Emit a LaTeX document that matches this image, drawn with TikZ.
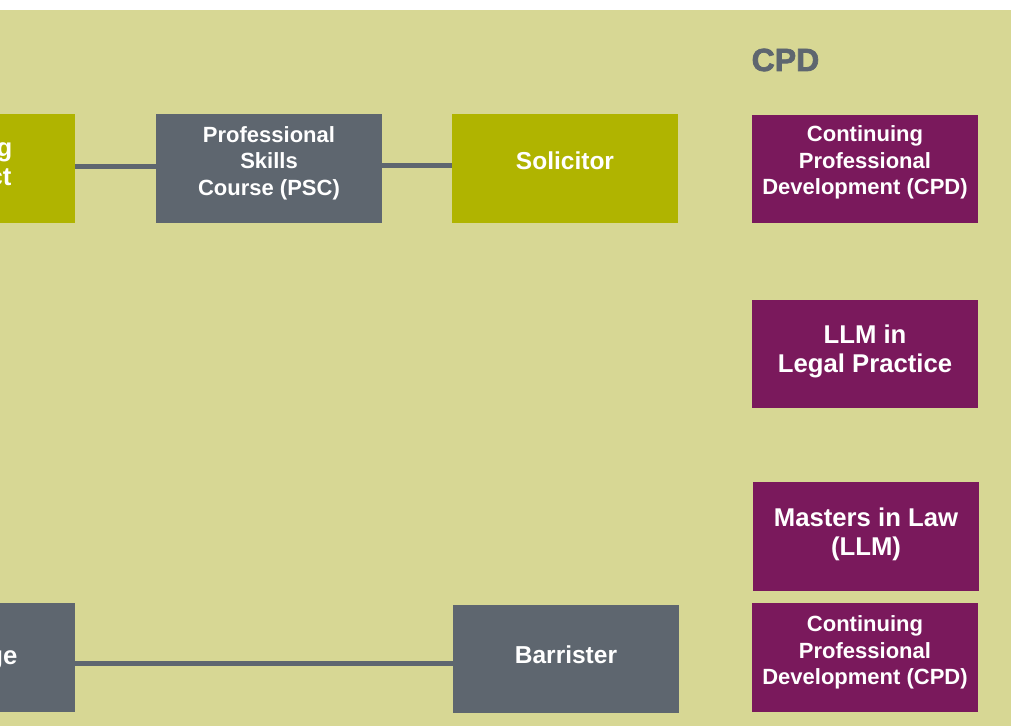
\documentclass[tikz,border=0pt]{standalone}
\usepackage{fontspec}
\setmainfont{Liberation Sans}
\newfontfamily\heavyfont{Liberation Sans}[BoldFeatures={FakeBold=2.2}]
\definecolor{khaki}{RGB}{215,215,148}
\definecolor{lime}{RGB}{176,180,0}
\definecolor{slate}{RGB}{94,102,111}
\definecolor{plum}{RGB}{122,25,92}
\tikzset{
  box/.style={rectangle, inner sep=0pt, minimum width=226bp, minimum height=109bp},
  limebox/.style={box, fill=lime},
  slatebox/.style={box, fill=slate},
  plumbox/.style={box, fill=plum, minimum height=108bp},
  smalltxt/.style={inner sep=0pt, text=white, align=center, font=\fontsize{22bp}{26.5bp}\selectfont\bfseries},
  bigtxt/.style={inner sep=0pt, text=white, align=center, font=\fontsize{25.7bp}{29.5bp}\selectfont\bfseries},
  midtxt/.style={inner sep=0pt, text=white, align=center, font=\fontsize{24.5bp}{29bp}\selectfont\bfseries},
  conn/.style={draw=slate, line width=5bp},
  title/.style={inner sep=0pt, text=slate, font=\fontsize{32bp}{36bp}\selectfont\heavyfont\bfseries}
}
\begin{document}
\begin{tikzpicture}[x=1bp, y=-1bp]
\useasboundingbox (0,0) rectangle (1011,726);
\clip (0,0) rectangle (1011,726);
\fill[white] (0,0) rectangle (1011,726);
\fill[khaki] (0,10) rectangle (1011,726);

% title
\node[title, anchor=base west] (cpdtitle) at (751.5,71) {CPD};

% boxes
\node[limebox] (trainL) at (-38,168.5) {};
\node[slatebox] (psc) at (269,168.5) {};
\node[limebox] (sol) at (565,168.5) {};
\node[plumbox] (cpd1) at (865,169) {};
\node[plumbox] (llmlp) at (865,354) {};
\node[plumbox, minimum height=108.7bp] (masters) at (866,536.3) {};
\node[plumbox, minimum height=108.7bp] (cpd2) at (865,657.3) {};
\node[slatebox, minimum height=108bp] (barr) at (566,659) {};
\node[slatebox] (botL) at (-38,657.5) {};

% texts
\node[bigtxt, anchor=base east] (trainLa) at (12.5,157) {g};
\node[bigtxt, anchor=base east] (trainLb) at (11.6,186) {ct};
\node[bigtxt, anchor=base east] (botLa) at (17.6,664) {ge};
\node[smalltxt, yshift=5.25bp] (pscT) at (psc.center) {Professional\\Skills\\Course (PSC)};
\node[midtxt, yshift=8bp] (solT) at (sol.center) {Solicitor};
\node[smalltxt, yshift=6.4bp] (cpd1T) at (cpd1.center) {Continuing\\Professional\\Development (CPD)};
\node[bigtxt, yshift=2.6bp] (llmlpT) at (llmlp.center) {LLM in\\Legal Practice};
\node[bigtxt, yshift=2bp] (mastersT) at (masters.center) {Masters in Law\\(LLM)};
\node[smalltxt, yshift=4.5bp] (cpd2T) at (cpd2.center) {Continuing\\Professional\\Development (CPD)};
\node[midtxt, yshift=4.7bp] (barrT) at (barr.center) {Barrister};

% connectors
\draw[conn] ([yshift=2bp]trainL.east) -- ([yshift=2bp]psc.west);
\draw[conn] ([yshift=3.2bp]psc.east) -- ([yshift=3.2bp]sol.west);
\draw[conn] ([yshift=-6.3bp]botL.east) -- ([yshift=-6.3bp]botL.east -| barr.west);
\end{tikzpicture}
\end{document}
